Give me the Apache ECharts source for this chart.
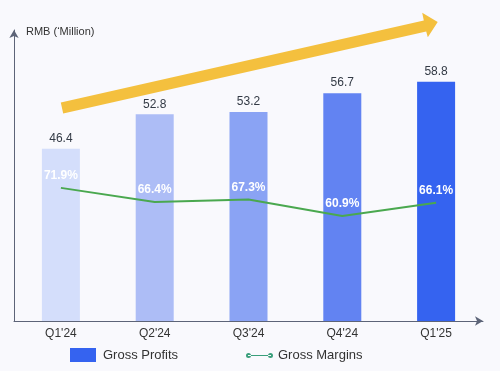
<!DOCTYPE html>
<html><head><meta charset="utf-8">
<script src="https://cdn.jsdelivr.net/npm/echarts@6/dist/echarts.min.js"></script>
<style>html,body{margin:0;padding:0;background:#f9f9fd}#c{width:500px;height:371px}</style>
</head><body><div id="c"></div>
<script>
const categories = ["Q1'24", "Q2'24", "Q3'24", "Q4'24", "Q1'25"];
const grossProfits = [46.4, 52.8, 53.2, 56.7, 58.8];
const grossMargins = [71.9, 66.4, 67.3, 60.9, 66.1];
const barColors = ['#d4defb', '#adbdf6', '#8aa3f4', '#6283f2', '#3563f0'];
const FONT = "'Liberation Sans', Arial, sans-serif";

const chart = echarts.init(document.getElementById('c'), null, {renderer: 'canvas'});
chart.setOption({
  backgroundColor: '#f9f9fd',
  animation: false,
  textStyle: {fontFamily: FONT},
  title: {
    text: 'RMB (\u2018Million)', left: 26, top: 26, padding: 0,
    textStyle: {fontSize: 11, fontWeight: 'normal', color: '#333', fontFamily: FONT}
  },
  grid: {left: 14, right: 17, top: 30, bottom: 50, containLabel: false},
  legend: [
    {
      data: ['Gross Profits'], left: 70, top: 348, padding: 0, itemWidth: 26, itemHeight: 14,
      icon: 'rect', itemGap: 0,
      textStyle: {fontSize: 13, color: '#333', fontFamily: FONT, padding: [1, 0, 0, 2]}
    },
    {
      data: [{name: 'Gross Margins', itemStyle: {color: '#3a9f7b'}}], left: 246, top: 349, padding: 0, itemWidth: 27, itemHeight: 5,
      icon: 'path://M2,2 L25,2 L25,3 L2,3 Z M0,2.5 A2.5,2.5 0 1 0 5,2.5 A2.5,2.5 0 1 0 0,2.5 Z M22,2.5 A2.5,2.5 0 1 0 27,2.5 A2.5,2.5 0 1 0 22,2.5 Z',
      textStyle: {fontSize: 13, color: '#333', fontFamily: FONT}
    }
  ],
  xAxis: {
    type: 'category', data: categories,
    axisLine: {lineStyle: {color: '#5d6478', width: 1}, symbol: ['none', 'arrow'], symbolSize: [7, 8]},
    axisTick: {show: false},
    axisLabel: {fontSize: 12, color: '#333', margin: 7, fontFamily: FONT}
  },
  yAxis: [
    {
      type: 'value', min: 14.5, max: 68.4,
      axisLine: {show: true, lineStyle: {color: '#5d6478', width: 1}, symbol: ['none', 'arrow'], symbolSize: [7, 8]},
      axisTick: {show: false}, axisLabel: {show: false}, splitLine: {show: false}
    },
    {
      type: 'value', min: 19.7, max: 133.8, show: false, splitLine: {show: false}
    }
  ],
  series: [
    {
      name: 'Gross Profits', type: 'bar', barWidth: 38,
      itemStyle: {color: '#3563f0'},
      data: grossProfits.map((v, i) => ({value: v, itemStyle: {color: barColors[i]}})),
      label: {show: true, position: 'top', distance: 4, fontSize: 12, color: '#333a45', fontFamily: FONT}
    },
    {
      name: 'Gross Margins', type: 'line', yAxisIndex: 1, data: grossMargins,
      symbol: 'circle', symbolSize: 0, showSymbol: true,
      lineStyle: {color: '#4aa84f', width: 2}, itemStyle: {color: '#4aa84f'},
      label: {show: true, position: 'top', distance: 6, fontSize: 12, fontWeight: 'bold', color: '#ffffff',
        fontFamily: FONT, formatter: p => p.value.toFixed(1) + '%'}
    }
  ],
  graphic: [
    {
      type: 'polygon', z: 10,
      shape: {points: [[60.8,102.6],[423.8,20.6],[422.2,12.8],[437.7,22.1],[427.8,37.2],[426.2,31.4],[63.2,113.4]]},
      style: {fill: '#f4c03e'}
    }
  ]
});
</script></body></html>
